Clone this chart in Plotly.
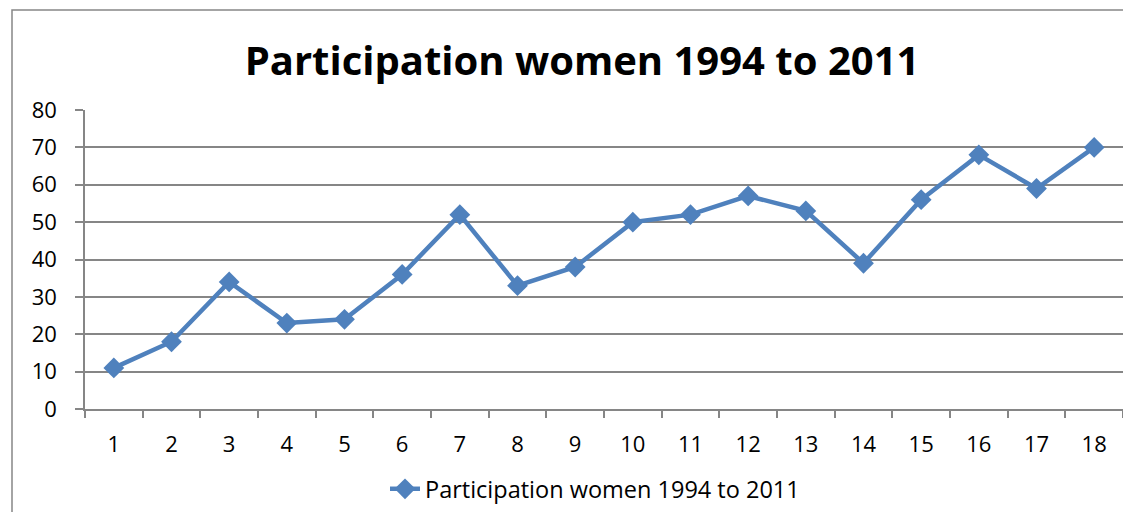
import plotly.graph_objects as go

categories = [str(i) for i in range(1, 19)]
values = [11, 18, 34, 23, 24, 36, 52, 33, 38, 50, 52, 57, 53, 39, 56, 68, 59, 70]
series_name = "Participation women 1994 to 2011"
title_text = "Participation women 1994 to 2011"

# page has an 8px body margin; figure coordinates are page minus 8
OFF = 8
W, H = 1131 - 2 * OFF, 520 - 2 * OFF
L, R, T, B = 85 - OFF, 1123 - OFF, 110 - OFF, 409 - OFF
pw, ph = R - L, B - T

def px_x(p):
    return (p - OFF - L) / pw

def px_y(p):
    return (B - (p - OFF)) / ph

fig = go.Figure()
fig.add_trace(go.Scatter(
    x=categories, y=values, mode="lines+markers", name=series_name,
    line=dict(color="#4F81BD", width=4.5),
    marker=dict(symbol="diamond", size=16, color="#4F81BD"),
))

fig.update_layout(
    width=W, height=H,
    margin=dict(l=L, r=W - R, t=T, b=H - B, pad=0, autoexpand=False),
    paper_bgcolor="white", plot_bgcolor="white",
    font=dict(family="'Open Sans', Lato, sans-serif", size=22, color="black"),
    title=dict(text="<b>" + title_text + "</b>", x=(582 - OFF) / W, xanchor="center",
               y=1 - (61 - OFF) / H, yanchor="middle", yref="container",
               font=dict(size=40, color="black")),
    showlegend=True,
    legend=dict(orientation="h", x=px_x(595), xanchor="center", y=px_y(489), yanchor="middle",
                font=dict(size=23.5), bgcolor="rgba(0,0,0,0)"),
    xaxis=dict(type="category", range=[-0.5, 17.5], tickson="boundaries", ticks="outside", ticklen=7,
               tickcolor="#868686", tickwidth=1.5, showline=True, linecolor="#868686", linewidth=1.5,
               showgrid=False, ticklabelstandoff=15, automargin=False),
    yaxis=dict(range=[0, 80], dtick=10, ticks="outside", ticklen=8, tickcolor="#868686", tickwidth=1.5,
               showline=True, linecolor="#868686", linewidth=1.5, showgrid=True,
               gridcolor="#868686", gridwidth=1.5, zeroline=False, ticklabelstandoff=14,
               automargin=False),
)

fig.add_shape(type="rect", xref="paper", yref="paper",
              x0=px_x(12), x1=px_x(1160), y0=px_y(540), y1=px_y(10),
              line=dict(color="#868686", width=1.5), fillcolor="rgba(0,0,0,0)", layer="below")

fig.write_html("out.html")
